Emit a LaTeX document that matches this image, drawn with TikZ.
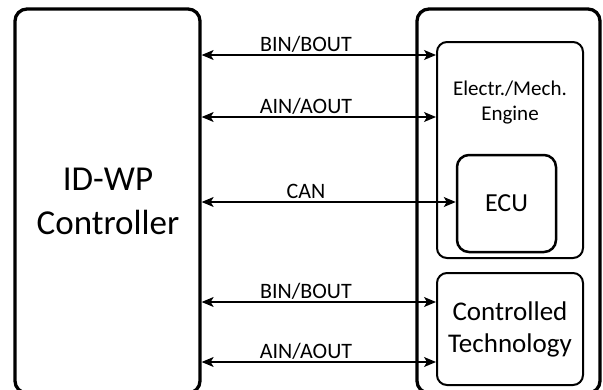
\documentclass[tikz,border=0pt]{standalone}
\usepackage{fontspec}
\setmainfont{Carlito}
\usetikzlibrary{arrows.meta}
\begin{document}
\begin{tikzpicture}[x=1pt,y=-1pt,
  bigbox/.style={draw,line width=3.3pt,rounded corners=12pt,inner sep=0pt},
  subbox/.style={draw,line width=2pt,rounded corners=10pt,inner sep=0pt},
  ecubox/.style={draw,line width=2.5pt,rounded corners=12pt,inner sep=0pt},
  conn/.style={line width=1.2pt,{Stealth[length=12pt,width=10pt,inset=3pt]}-{Stealth[length=12pt,width=10pt,inset=3pt]}},
  lbl/.style={font=\fontsize{22}{26}\selectfont,anchor=base,inner sep=0pt}]
\useasboundingbox (0,0) rectangle (603,389);
\clip (0,0) rectangle (603,389);
\node[bigbox,minimum width=185pt,minimum height=384pt] (ctrl) at (107.5,201) {};
\node[bigbox,minimum width=183pt,minimum height=384pt] (plant) at (508.5,201) {};
\node[subbox,minimum width=146pt,minimum height=216pt] (eng) at (510,150) {};
\node[ecubox,minimum width=99pt,minimum height=97pt] (ecu) at (506.5,203.5) {};
\node[subbox,minimum width=146pt,minimum height=112pt] (tech) at (510,329) {};
% texts
\node[lbl,font=\fontsize{35}{40}\selectfont] (t1) at (108,190) {ID-WP};
\node[lbl,font=\fontsize{35}{40}\selectfont] (t2) at (108,234) {Controller};
\node[lbl,font=\fontsize{21}{25}\selectfont] (t3) at (510,95) {Electr./Mech.};
\node[lbl,font=\fontsize{21}{25}\selectfont] (t4) at (510,120) {Engine};
\node[lbl,font=\fontsize{26}{30}\selectfont] (t5) at (506.5,211) {ECU};
\node[lbl,font=\fontsize{27}{31}\selectfont] (t6) at (510,320) {Controlled};
\node[lbl,font=\fontsize{27}{31}\selectfont] (t7) at (510,352) {Technology};
% connectors
\draw[conn] (ctrl.east |- 0,55) -- (eng.west |- 0,55);
\draw[conn] (ctrl.east |- 0,117) -- (eng.west |- 0,117);
\draw[conn] (ctrl.east |- 0,202) -- (ecu.west |- 0,202);
\draw[conn] (ctrl.east |- 0,302) -- (tech.west |- 0,302);
\draw[conn] (ctrl.east |- 0,362) -- (tech.west |- 0,362);
\node[lbl] (l1) at (306,51) {BIN/BOUT};
\node[lbl] (l2) at (306,113) {AIN/AOUT};
\node[lbl] (l3) at (306,198) {CAN};
\node[lbl] (l4) at (306,298) {BIN/BOUT};
\node[lbl] (l5) at (306,358) {AIN/AOUT};
\end{tikzpicture}
\end{document}
